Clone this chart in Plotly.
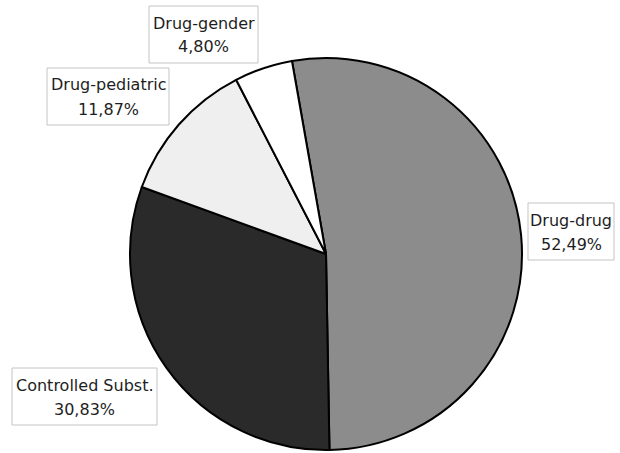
import plotly.graph_objects as go

categories = ["Drug-drug", "Controlled Subst.", "Drug-pediatric", "Drug-gender"]
values = [52.49, 30.83, 11.87, 4.80]
value_labels = ["52,49%", "30,83%", "11,87%", "4,80%"]
colors = ["#8c8c8c", "#2a2a2a", "#efefef", "#ffffff"]

W, H = 620, 453
cx, cy, r = 326, 254, 196

# label boxes in pixel coords: (left, top, right, bottom)
boxes = {
    "Drug-drug": (528, 203, 614, 260),
    "Controlled Subst.": (12, 368, 157, 425),
    "Drug-pediatric": (47, 68, 169, 125),
    "Drug-gender": (149, 6, 258, 63),
}

fig = go.Figure(go.Pie(
    labels=categories,
    values=values,
    sort=False,
    direction="clockwise",
    rotation=-10,
    marker=dict(colors=colors, line=dict(color="#000000", width=2)),
    textinfo="none",
    hoverinfo="label+percent",
    showlegend=False,
    domain=dict(x=[(cx - r) / W, (cx + r) / W], y=[(H - cy - r) / H, (H - cy + r) / H]),
))

def px(x):
    return x / W

def py(y):
    return 1 - y / H

shapes = []
annotations = []
for cat, lab in zip(categories, value_labels):
    l, t, rr, b = boxes[cat]
    shapes.append(dict(type="rect", xref="paper", yref="paper",
                       x0=px(l), x1=px(rr), y0=py(b), y1=py(t),
                       line=dict(color="#c4c4c4", width=1), fillcolor="white", layer="above"))
    xc = (l + rr) / 2
    for txt, yy in ((cat, t + 17), (lab, t + 41)):
        annotations.append(dict(x=px(xc), y=py(yy), xref="paper", yref="paper",
                                text=txt, showarrow=False, xanchor="center", yanchor="middle",
                                font=dict(family="DejaVu Sans", size=16, color="#1e1e1e")))

fig.update_layout(
    width=W, height=H,
    margin=dict(l=0, r=0, t=0, b=0),
    paper_bgcolor="white", plot_bgcolor="white",
    shapes=shapes, annotations=annotations,
)

fig.write_html("out.html")
